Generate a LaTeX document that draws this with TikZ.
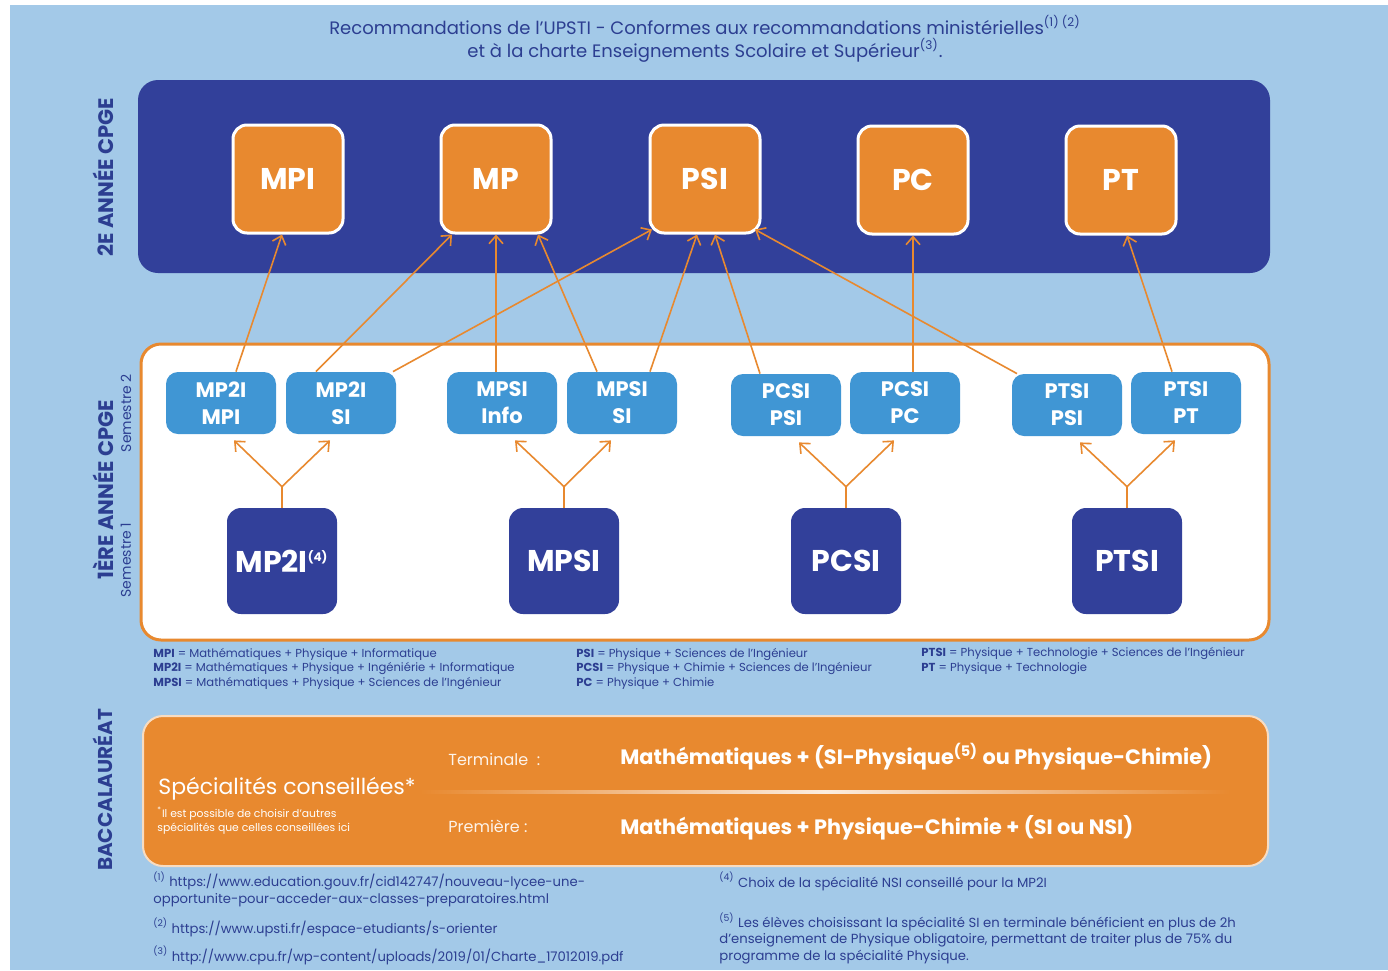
\documentclass[tikz,border=0pt]{standalone}
\usepackage{fontspec}
\setmainfont{Poppins}
\usetikzlibrary{arrows.meta,calc,positioning}

\definecolor{bgblue}{RGB}{163,201,232}
\definecolor{navy}{RGB}{50,64,154}
\definecolor{orng}{RGB}{232,137,47}
\definecolor{midblue}{RGB}{64,150,212}
\definecolor{txtblue}{RGB}{44,62,145}

\begin{document}
\begin{tikzpicture}[x=0.5pt,y=-0.5pt,
  >={Straight Barb[length=4pt,width=7pt]},
  link/.style={draw=orng,line width=0.8pt,->},
  topbox/.style={draw=white,line width=1.5pt,fill=orng,rounded corners=7pt,
    minimum width=55pt,minimum height=54pt,text=white,
    font=\bfseries\fontsize{15}{18}\selectfont},
  semtwo/.style={fill=midblue,rounded corners=6pt,minimum width=55pt,
    minimum height=31pt,inner sep=1pt,text=white,align=center,
    font=\bfseries\fontsize{10.5}{13.5}\selectfont},
  semone/.style={fill=navy,rounded corners=7pt,minimum width=55pt,
    minimum height=53pt,text=white,font=\bfseries\fontsize{15}{18}\selectfont},
  sidelbl/.style={rotate=90,text=txtblue,font=\bfseries\fontsize{10.5}{12}\selectfont},
  semlbl/.style={rotate=90,text=txtblue,font=\fontsize{7}{8}\selectfont},
  legend/.style={anchor=base west,align=left,inner sep=0pt,text=txtblue,
    font=\fontsize{5.8}{7.25}\selectfont},
  fnote/.style={anchor=base west,align=left,inner sep=0pt,text=txtblue,
    font=\fontsize{6.6}{8.2}\selectfont},
  bactext/.style={anchor=base west,inner sep=0pt,text=white},
]
\useasboundingbox (0,0) rectangle (1388,970);
\fill[bgblue] (10,5) rectangle (1388,970);

% title
\node[text=txtblue,align=center,font=\fontsize{9}{11.5}\selectfont] (title) at (705,39)
  {Recommandations de l'UPSTI - Conformes aux recommandations ministérielles\textsuperscript{(1) (2)}\\
   et à la charte Enseignements Scolaire et Supérieur\textsuperscript{(3)}.};

% panels
\fill[navy,rounded corners=10pt] (138,80) rectangle (1270,273);
\draw[orng,line width=1.5pt,fill=white,rounded corners=10pt] (141,344) rectangle (1269,640);
\draw[white!70!orng,line width=1pt,fill=orng,rounded corners=10pt] (143,716) rectangle (1268,866);

% side labels
\node[sidelbl] (lbltwo) at (103,177) {2E ANNÉE CPGE};
\node[sidelbl] (lblone) at (103,490) {1ÈRE ANNÉE CPGE};
\node[semlbl] (semb) at (126,413) {Semestre 2};
\node[semlbl] (sema) at (126,560) {Semestre 1};
\node[sidelbl,font=\bfseries\fontsize{10}{12}\selectfont] (lblbac) at (103,790) {BACCALAURÉAT};

% 2e annee
\node[topbox] (mpi) at (288,179) {MPI};
\node[topbox] (mp) at (496,179) {MP};
\node[topbox] (psi) at (705,179) {PSI};
\node[topbox] (pc) at (913,180) {PC};
\node[topbox] (pt) at (1121,180) {PT};

% semestre 2
\node[semtwo] (mp2impi) at (221,403) {MP2I\\MPI};
\node[semtwo] (mp2isi) at (341,403) {MP2I\\SI};
\node[semtwo] (mpsiinfo) at (502,403) {MPSI\\Info};
\node[semtwo] (mpsisi) at (622,403) {MPSI\\SI};
\node[semtwo] (pcsipsi) at (786,405) {PCSI\\PSI};
\node[semtwo] (pcsipc) at (905,403) {PCSI\\PC};
\node[semtwo] (ptsipsi) at (1067,405) {PTSI\\PSI};
\node[semtwo] (ptsipt) at (1186,403) {PTSI\\PT};

% semestre 1
\node[semone] (s1mp2i) at (282,561) {MP2I\textsuperscript{\fontsize{6}{6}\selectfont(4)}};
\node[semone] (s1mpsi) at (564,561) {MPSI};
\node[semone] (s1pcsi) at (846,561) {PCSI};
\node[semone] (s1ptsi) at (1127,561) {PTSI};

% forks semestre 1 -> semestre 2
\foreach \s/\a/\b in {s1mp2i/mp2impi/mp2isi,s1mpsi/mpsiinfo/mpsisi,
                      s1pcsi/pcsipsi/pcsipc,s1ptsi/ptsipsi/ptsipt}{
  \coordinate (j\s) at ($(\s.north)+(0,-21)$);
  \draw[link,-] (\s.north) -- (j\s);
  \draw[link] (j\s) -- ($(\a.south)+(13,6)$);
  \draw[link] (j\s) -- ($(\b.south)+(-11,6)$);
}

% semestre 2 -> 2e annee
\draw[link] ($(mp2impi.north)+(15,0)$) -- ($(mpi.south)+(-6,0)$);
\draw[link] ($(mp2isi.north)+(-25,0)$) -- ($(mp.south)+(-44,0)$);
\draw[link] ($(mp2isi.north)+(52,0)$) -- ($(psi.south)+(-53,-5)$);
\draw[link] ($(mpsiinfo.north)+(-6,0)$) -- (mp.south);
\draw[link] ($(mpsisi.north)+(-25,0)$) -- ($(mp.south)+(42,0)$);
\draw[link] ($(mpsisi.north)+(28,0)$) -- ($(psi.south)+(-8,0)$);
\draw[link] ($(pcsipsi.north)+(-26,0)$) -- ($(psi.south)+(10,0)$);
\draw[link] ($(pcsipc.north)+(8,0)$) -- (pc.south);
\draw[link] ($(ptsipsi.north)+(-50,0)$) -- ($(psi.south)+(50,-5)$);
\draw[link] ($(ptsipt.north)+(-14,0)$) -- ($(pt.south)+(6,0)$);

% legend (base = last line)
\node[legend] (legA) at (153,686)
  {\textbf{MPI} = Mathématiques + Physique + Informatique\\
   \textbf{MP2I} = Mathématiques + Physique + Ingéniérie + Informatique\\
   \textbf{MPSI} = Mathématiques + Physique + Sciences de l'Ingénieur};
\node[legend] (legB) at (576,686)
  {\textbf{PSI} = Physique + Sciences de l'Ingénieur\\
   \textbf{PCSI} = Physique + Chimie + Sciences de l'Ingénieur\\
   \textbf{PC} = Physique + Chimie};
\node[legend] (legC) at (921,671)
  {\textbf{PTSI} = Physique + Technologie + Sciences de l'Ingénieur\\
   \textbf{PT} = Physique + Technologie};

% baccalaureat
\shade[left color=orng,right color=orng,middle color=white!85!orng] (420,790) rectangle (1230,793);
\node[bactext,font=\fontsize{11}{13}\selectfont] (spec) at (158,794) {Spécialités conseillées*};
\node[bactext,align=left,font=\fontsize{5.4}{7}\selectfont] (specnote) at (157,831)
  {\textsuperscript{*}Il est possible de choisir d'autres\\spécialités que celles conseillées ici};
\node[bactext,text=white!90!orng,font=\fontsize{8}{10}\selectfont] (term) at (448,765) {Terminale~~:};
\node[bactext,text=white!90!orng,font=\fontsize{8}{10}\selectfont] (prem) at (448,832) {Première :};
\node[bactext,font=\bfseries\fontsize{10.4}{12}\selectfont] (termspec) at (620,764)
  {Mathématiques + (SI-Physique\textsuperscript{(5)} ou Physique-Chimie)};
\node[bactext,font=\bfseries\fontsize{10.4}{12}\selectfont] (premspec) at (620,834)
  {Mathématiques + Physique-Chimie + (SI ou NSI)};

% footnotes (base = last line)
\node[fnote] (fna) at (153,903)
  {\textsuperscript{(1)} https://www.education.gouv.fr/cid142747/nouveau-lycee-une-\\
   opportunite-pour-acceder-aux-classes-preparatoires.html};
\node[fnote] (fnb) at (153,933) {\textsuperscript{(2)} https://www.upsti.fr/espace-etudiants/s-orienter};
\node[fnote] (fnc) at (153,961) {\textsuperscript{(3)} http://www.cpu.fr/wp-content/uploads/2019/01/Charte\_17012019.pdf};
\node[fnote] (fnd) at (719,887) {\textsuperscript{(4)} Choix de la spécialité NSI conseillé pour la MP2I};
\node[fnote] (fne) at (719,960)
  {\textsuperscript{(5)} Les élèves choisissant la spécialité SI en terminale bénéficient en plus de 2h\\
   d'enseignement de Physique obligatoire, permettant de traiter plus de 75\% du\\
   programme de la spécialité Physique.};
\end{tikzpicture}
\end{document}
